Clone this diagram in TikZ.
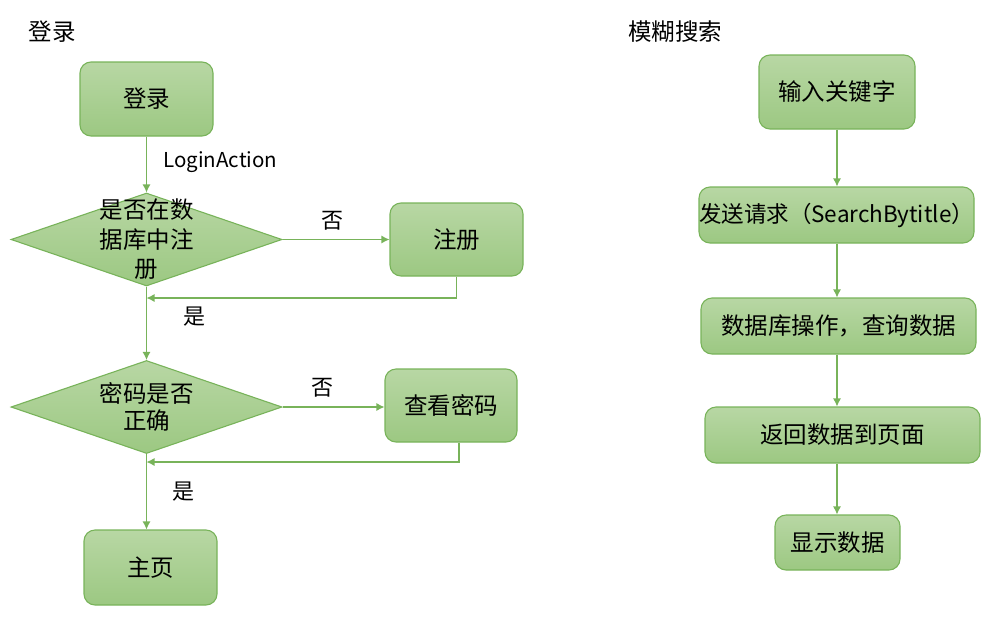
\documentclass[tikz,border=0pt]{standalone}
\usepackage{fontspec}
\setmainfont{Noto Sans CJK SC}
\usetikzlibrary{shapes.geometric,arrows.meta}
\definecolor{gtop}{HTML}{B8D7A4}
\definecolor{gbot}{HTML}{9CC882}
\definecolor{gline}{HTML}{78B35A}
\tikzset{
  x=1pt, y=-1pt,
  every node/.style={font=\fontsize{23.5}{29}\selectfont},
  box/.style={rectangle, rounded corners=11pt, top color=gtop, bottom color=gbot,
    draw=gline, line width=1.1pt, inner sep=0pt, align=center},
  decision/.style={diamond, top color=gtop, bottom color=gbot, draw=gline,
    line width=1.1pt, inner sep=0pt, minimum width=271pt, minimum height=93pt},
  flow/.style={draw=gline, line width=1.1pt, -{Latex[length=8pt,width=8pt]}},
  tag/.style={font=\fontsize{22}{24}\selectfont},
}
\begin{document}
\begin{tikzpicture}
\useasboundingbox (0,0) rectangle (984,632);

% ---- login flow ----
\node (t1) at (52,32) {登录};
\node[box, minimum width=133pt, minimum height=74pt] (login) at (146.5,99) {登录};
\node[decision, label={[align=center,font=\fontsize{23.5}{29.5}\selectfont]center:是否在数\\据库中注\\册}] (d1) at (146.5,239.5) {};
\node[box, minimum width=133pt, minimum height=73pt] (reg) at (456.5,239.5) {注册};
\node[decision, label={[align=center,font=\fontsize{23.5}{27.5}\selectfont]center:密码是否\\正确}] (d2) at (146.5,407) {};
\node[box, minimum width=132pt, minimum height=73pt] (pwd) at (451,405.5) {查看密码};
\node[box, minimum width=133pt, minimum height=75pt] (home) at (150.5,567.5) {主页};

\coordinate (j1) at (146.5,298);
\coordinate (j2) at (146.5,462);

\draw[flow] (login.south -| d1.north) -- node[right, xshift=13pt, yshift=2pt, font=\fontsize{20.5}{24}\selectfont] {LoginAction} (d1.north);
\draw[flow] (d1.east) -- node[tag, above=5pt, xshift=-4pt] {否} (reg.west);
\draw[flow] (reg.south) |- (j1);
\draw[flow] (d1.south) -- (d2.north);
\draw[flow] (d2.east) -- node[tag, above=6pt, xshift=-11pt] {否} (d2.east -| pwd.west);
\draw[flow] (pwd.south -| 459,0) |- (j2);
\draw[flow] (d2.south) -- (home.north -| d2.south);
\node[tag] (yes1) at (194,317) {是};
\node[tag] (yes2) at (183,492) {是};

% ---- fuzzy search flow ----
\node (t2) at (675,32) {模糊搜索};
\node[box, minimum width=156pt, minimum height=74pt] (kw) at (837,92) {输入关键字};
\node[box, minimum width=275pt, minimum height=56pt, font=\fontsize{22.5}{27}\selectfont] (req) at (836.5,215) {发送请求（SearchBytitle）};
\node[box, minimum width=275pt, minimum height=56pt] (db) at (838.5,326) {数据库操作，查询数据};
\node[box, minimum width=275pt, minimum height=56pt] (ret) at (842.5,435) {返回数据到页面};
\node[box, minimum width=125pt, minimum height=55pt] (show) at (837.5,542.5) {显示数据};

\draw[flow] (kw.south) -- (kw.south |- req.north);
\draw[flow] (req.south -| kw.south) -- (kw.south |- db.north);
\draw[flow] (db.south -| kw.south) -- (kw.south |- ret.north);
\draw[flow] (ret.south -| kw.south) -- (kw.south |- show.north);
\end{tikzpicture}
\end{document}
